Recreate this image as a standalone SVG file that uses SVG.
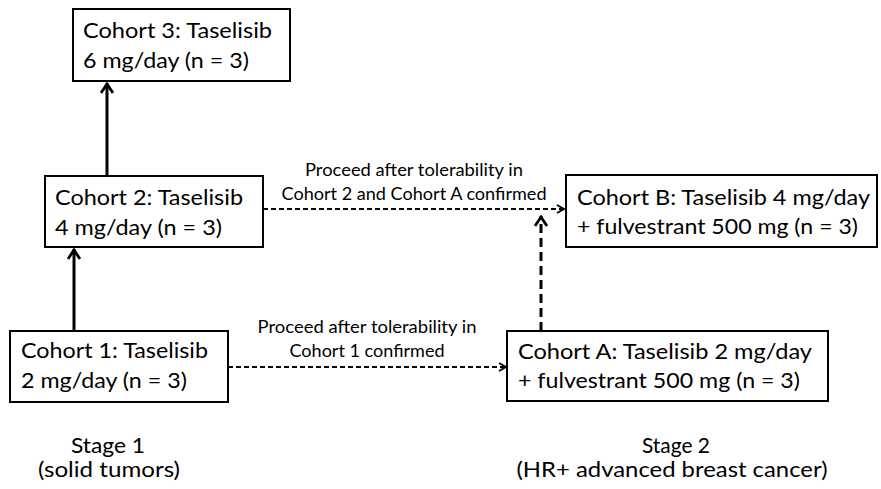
<svg xmlns="http://www.w3.org/2000/svg" width="881" height="489" viewBox="0 0 881 489">
<style>
.box{fill:#fff;stroke:#000;stroke-width:2}
.t{font-family:Lato,"Open Sans","Liberation Sans",sans-serif;font-size:21px;fill:#000}
.lbl{font-family:Lato,"Open Sans","Liberation Sans",sans-serif;font-size:17px;fill:#000}
.st{font-family:Lato,"Open Sans","Liberation Sans",sans-serif;font-size:21px;fill:#000}
.solid{stroke:#000;stroke-width:3;fill:none}
.dh{stroke:#000;stroke-width:2;stroke-dasharray:5 3;fill:none}
.dv{stroke:#000;stroke-width:3;stroke-dasharray:9 5;fill:none}
</style>
<defs>
<marker id="ah" viewBox="0 0 10 10" refX="9" refY="5" markerWidth="10" markerHeight="10" markerUnits="userSpaceOnUse" orient="auto">
<polyline points="2,1 9,5 2,9" fill="none" stroke="#000" stroke-width="1.8"/>
</marker>
<marker id="ahs" viewBox="0 0 14 14" refX="13" refY="7" markerWidth="14" markerHeight="14" markerUnits="userSpaceOnUse" orient="auto">
<polyline points="3,1 12,7 3,13" fill="none" stroke="#000" stroke-width="2.8"/>
</marker>
</defs>
<g id="connectors">
<line class="solid" x1="107" y1="176" x2="107" y2="83" marker-end="url(#ahs)"/>
<line class="solid" x1="74" y1="331" x2="74" y2="249" marker-end="url(#ahs)"/>
<line class="dh" x1="263" y1="209" x2="564" y2="209" marker-end="url(#ah)"/>
<line class="dh" x1="228" y1="367" x2="506" y2="367" marker-end="url(#ah)"/>
<line class="dv" x1="541" y1="331" x2="541" y2="216" marker-end="url(#ahs)"/>
<text class="lbl" x="414" y="176" text-anchor="middle" textLength="218" lengthAdjust="spacingAndGlyphs">Proceed after tolerability in</text>
<text class="lbl" x="414" y="200" text-anchor="middle" textLength="265" lengthAdjust="spacingAndGlyphs">Cohort 2 and Cohort A confirmed</text>
<text class="lbl" x="367" y="333" text-anchor="middle" textLength="219" lengthAdjust="spacingAndGlyphs">Proceed after tolerability in</text>
<text class="lbl" x="367" y="357" text-anchor="middle" textLength="155" lengthAdjust="spacingAndGlyphs">Cohort 1 confirmed</text>
</g>
<g id="cohort3">
<rect class="box" x="73" y="9" width="217" height="72"/>
<text class="t" x="83" y="38" textLength="189" lengthAdjust="spacingAndGlyphs">Cohort 3: Taselisib</text>
<text class="t" x="83" y="68" textLength="166" lengthAdjust="spacingAndGlyphs">6 mg/day (n = 3)</text>
</g>
<g id="cohort2">
<rect class="box" x="45" y="176" width="218" height="71"/>
<text class="t" x="55" y="205" textLength="188" lengthAdjust="spacingAndGlyphs">Cohort 2: Taselisib</text>
<text class="t" x="55" y="235" textLength="167" lengthAdjust="spacingAndGlyphs">4 mg/day (n = 3)</text>
</g>
<g id="cohort1">
<rect class="box" x="10" y="331" width="218" height="71"/>
<text class="t" x="21" y="358" textLength="187" lengthAdjust="spacingAndGlyphs">Cohort 1: Taselisib</text>
<text class="t" x="21" y="388" textLength="166" lengthAdjust="spacingAndGlyphs">2 mg/day (n = 3)</text>
</g>
<g id="cohortA">
<rect class="box" x="507" y="331" width="321" height="70"/>
<text class="t" x="518" y="359" textLength="294" lengthAdjust="spacingAndGlyphs">Cohort A: Taselisib 2 mg/day</text>
<text class="t" x="518" y="388" textLength="282" lengthAdjust="spacingAndGlyphs">+ fulvestrant 500 mg (n = 3)</text>
</g>
<g id="cohortB">
<rect class="box" x="566" y="175" width="311" height="72"/>
<text class="t" x="577" y="205" textLength="293" lengthAdjust="spacingAndGlyphs">Cohort B: Taselisib 4 mg/day</text>
<text class="t" x="577" y="234" textLength="281" lengthAdjust="spacingAndGlyphs">+ fulvestrant 500 mg (n = 3)</text>
</g>
<g id="stage1">
<text class="st" x="108" y="453" text-anchor="middle" textLength="74" lengthAdjust="spacingAndGlyphs">Stage 1</text>
<text class="st" x="109" y="477" text-anchor="middle" textLength="142" lengthAdjust="spacingAndGlyphs">(solid tumors)</text>
</g>
<g id="stage2">
<text class="st" x="676" y="453" text-anchor="middle" textLength="68" lengthAdjust="spacingAndGlyphs">Stage 2</text>
<text class="st" x="672" y="477" text-anchor="middle" textLength="311" lengthAdjust="spacingAndGlyphs">(HR+ advanced breast cancer)</text>
</g>
</svg>
